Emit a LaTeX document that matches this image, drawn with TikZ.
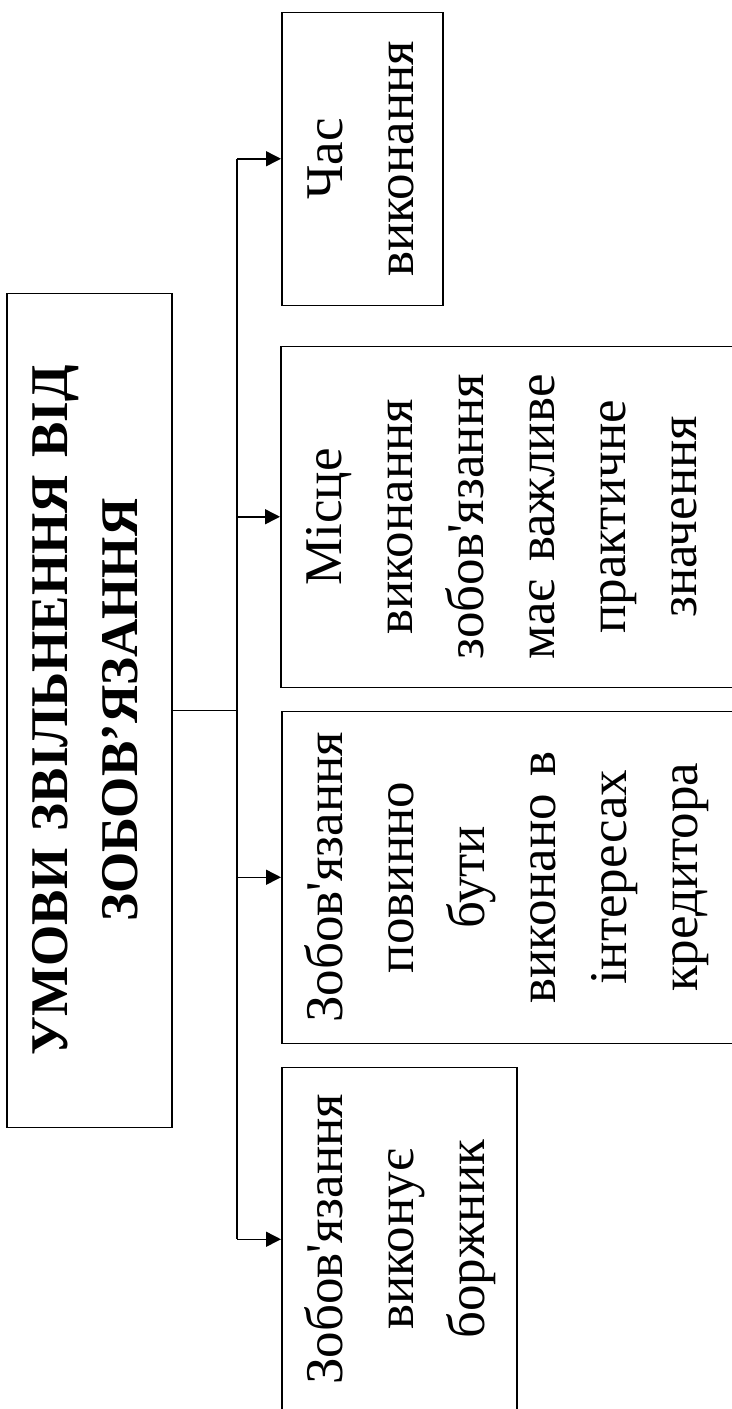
\documentclass[tikz,border=0pt]{standalone}
\usepackage{fontspec}
\setmainfont{LiberationSerif}[Extension=.ttf, UprightFont=*-Regular,
  BoldFont=*-Bold, Ligatures=TeXOff]
\usepackage{tikz}
\usetikzlibrary{positioning,arrows.meta}

\tikzset{
  block/.style={draw, line width=0.75pt, rotate=90, anchor=north west,
    inner sep=0pt, align=center, text height=30.5pt,
    font=\rmfamily\fontsize{26.5pt}{35.5pt}\selectfont},
  titleblock/.style={block, font=\rmfamily\bfseries\fontsize{26.5pt}{35pt}\selectfont},
  line/.style={line width=0.75pt},
  arr/.style={line, -{Triangle[length=7.5pt,width=7.5pt]}}
}

\begin{document}
\begin{tikzpicture}[x=0.5pt,y=-0.5pt]
\useasboundingbox (0,0) rectangle (732,1409);
% main box
\node[titleblock, text width=417pt, text depth=52pt] (title) at (6,1128)
  {УМОВИ ЗВІЛЬНЕННЯ ВІД\\ЗОБОВ’ЯЗАННЯ};
% right boxes
\node[block, text width=146.5pt, text depth=50pt] (cas) at (281,306)
  {Час\\виконання};
\node[block, text width=170.5pt, text depth=202pt] (misce) at (280,688)
  {Місце\\виконання\\зобов'язання\\має важливе\\практичне\\значення};
\node[block, text width=166pt, text depth=202pt] (povynno) at (281,1044)
  {Зобов'язання\\повинно\\бути\\виконано в\\інтересах\\кредитора};
\node[block, text width=172pt, text depth=87pt] (vykon) at (281,1412)
  {Зобов'язання\\виконує\\боржник};
% connectors
\coordinate[right=32.25pt of title.south] (hub);
\draw[line] (title.south) -- (hub);
\draw[line] (hub |- cas.north) -- (hub |- vykon.north);
\path[arr] (hub |- cas.north) edge (cas.north)
  (hub |- misce.north) edge (misce.north)
  (hub |- povynno.north) edge (povynno.north)
  (hub |- vykon.north) edge (vykon.north);
\end{tikzpicture}
\end{document}
